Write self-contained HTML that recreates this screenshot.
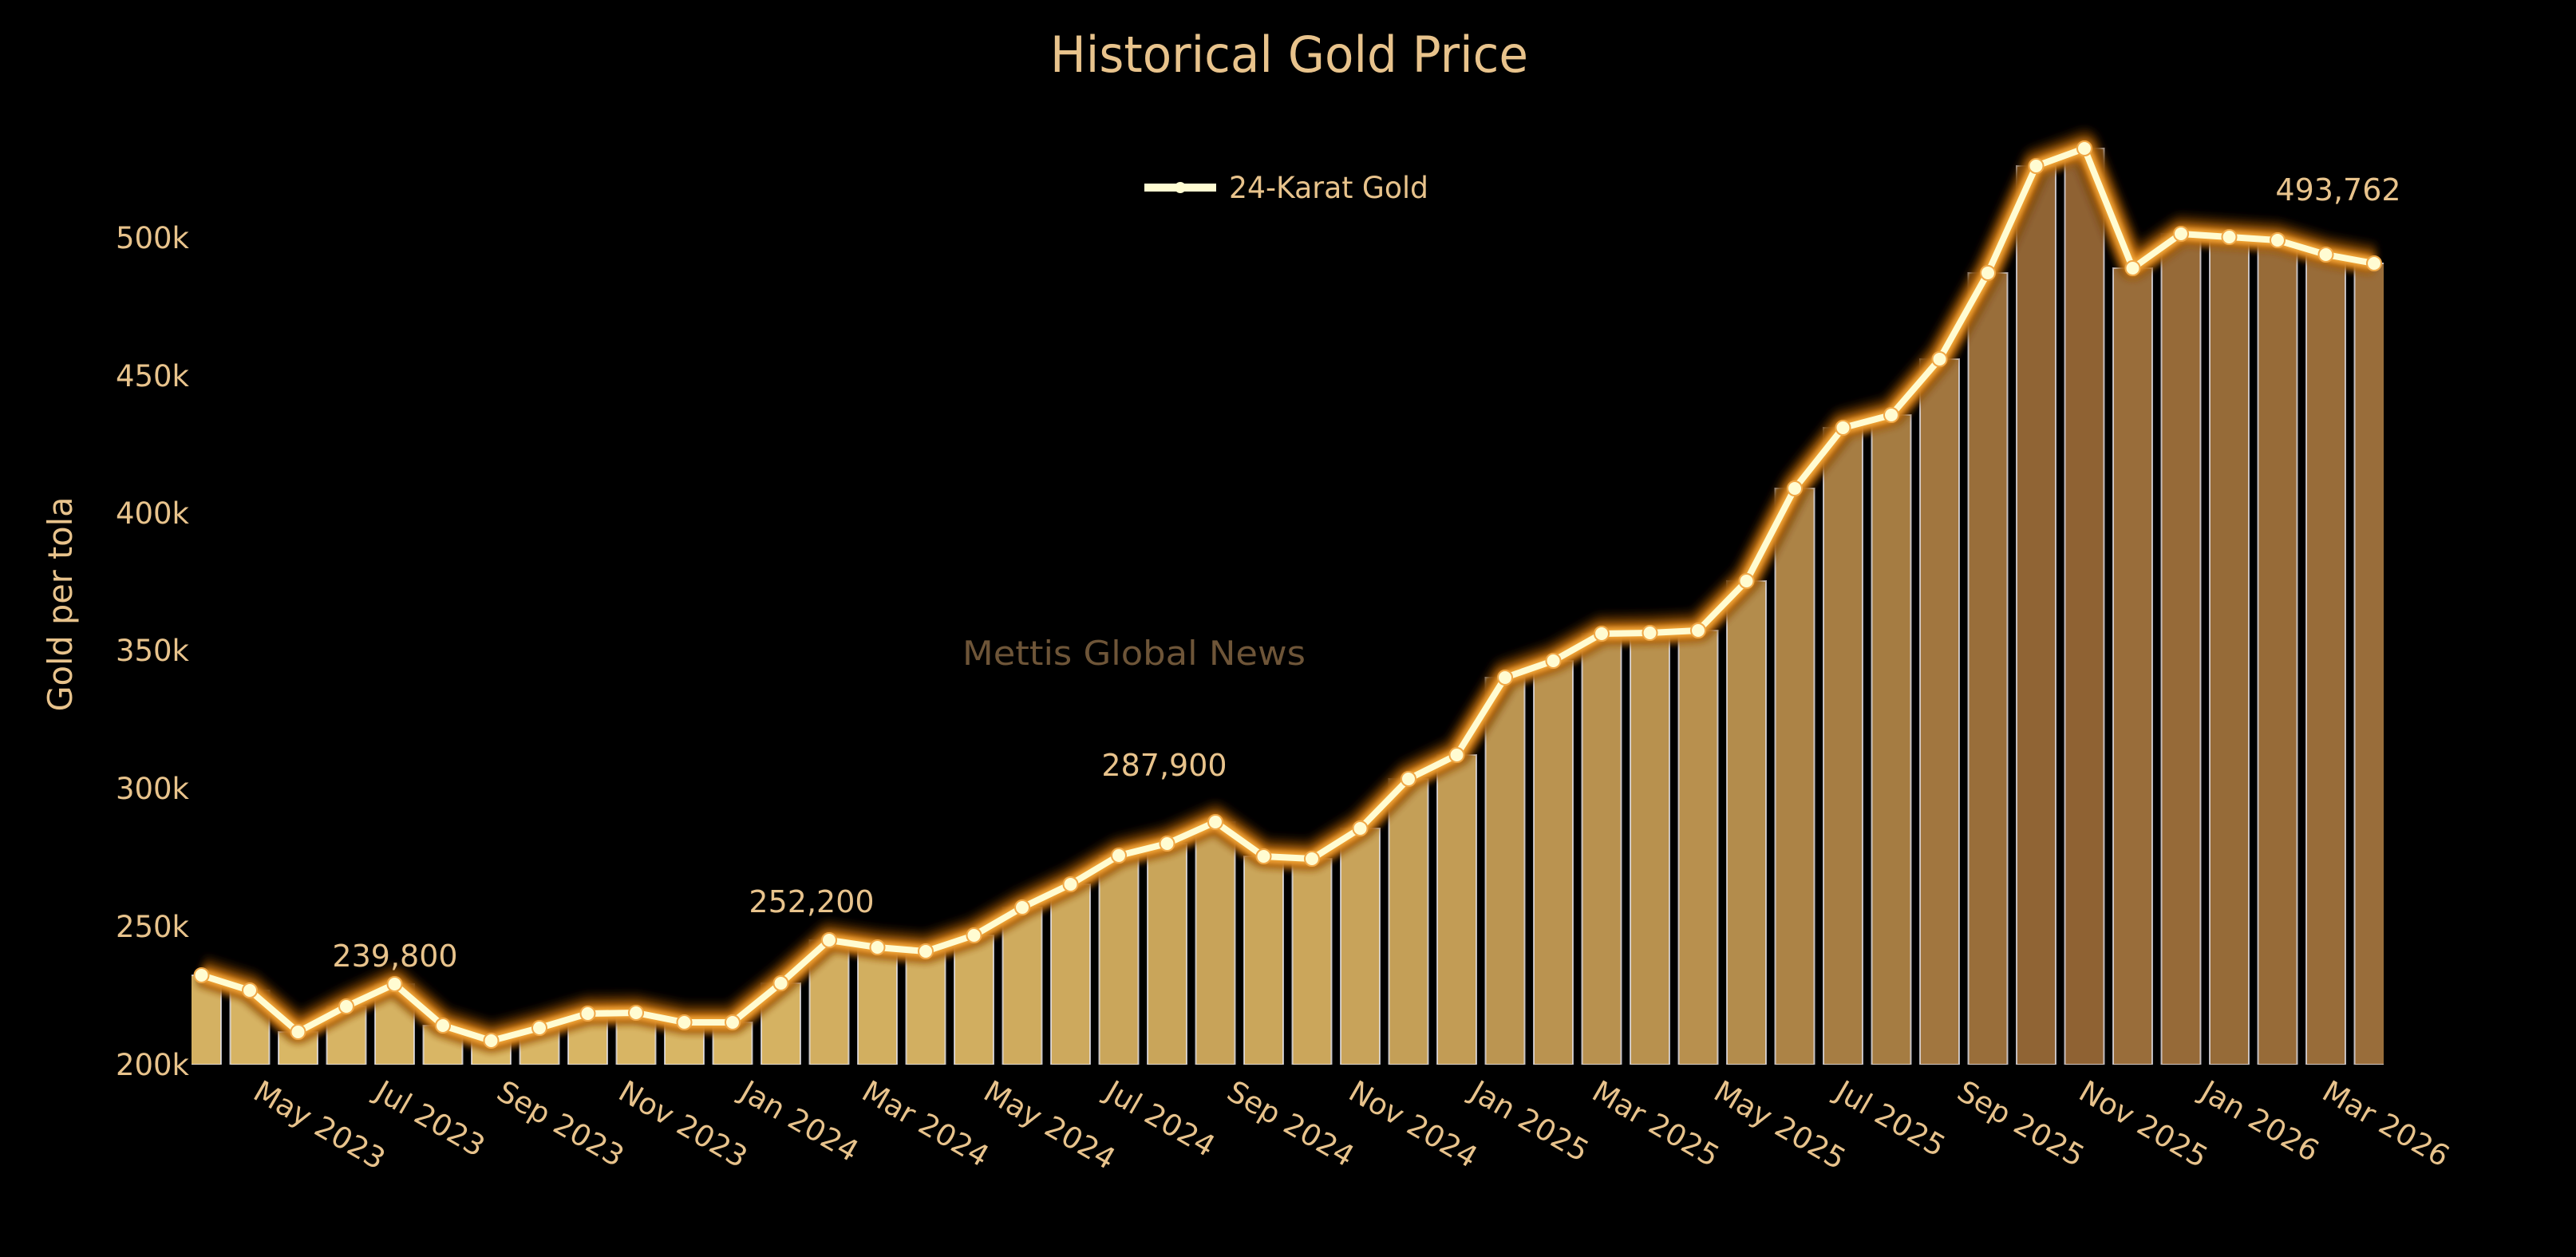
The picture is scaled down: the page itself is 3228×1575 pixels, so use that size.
<!DOCTYPE html>
<html><head><meta charset="utf-8"><style>html,body{margin:0;padding:0;background:#000}svg{display:block}</style></head>
<body>
<svg width="3228" height="1575" viewBox="0 0 3228 1575" xmlns="http://www.w3.org/2000/svg" font-family="DejaVu Sans, Liberation Sans, sans-serif">
<defs>
<filter id="b1" x="-10%" y="-10%" width="120%" height="120%"><feGaussianBlur stdDeviation="5"/></filter>
<filter id="b2" x="-10%" y="-10%" width="120%" height="120%"><feGaussianBlur stdDeviation="3"/></filter>
<clipPath id="pc"><rect x="240" y="100" width="2747" height="1234"/></clipPath>
</defs>
<rect width="3228" height="1575" fill="#000"/>
<text x="1316" y="90" font-size="62" fill="#e8c38c" textLength="599" lengthAdjust="spacingAndGlyphs">Historical Gold Price</text>
<line x1="1434" y1="235" x2="1524" y2="235" stroke="#fffcd2" stroke-width="10"/>
<circle cx="1479" cy="235" r="7" fill="#fffcd2"/>
<text x="1540" y="248" font-size="37" fill="#e8c38c" textLength="250" lengthAdjust="spacingAndGlyphs">24-Karat Gold</text>
<g font-size="37" fill="#e8c38c" text-anchor="end">
<text x="237" y="311">500k</text><text x="237" y="484">450k</text><text x="237" y="656">400k</text><text x="237" y="828">350k</text><text x="237" y="1001">300k</text><text x="237" y="1174">250k</text><text x="237" y="1347">200k</text>
</g>
<text transform="translate(90,757) rotate(-90)" text-anchor="middle" font-size="42" fill="#e8c38c" textLength="269" lengthAdjust="spacingAndGlyphs">Gold per tola</text>
<text x="1421" y="833" text-anchor="middle" font-size="42" fill="#6e5538" textLength="430" lengthAdjust="spacingAndGlyphs">Mettis Global News</text>
<g id="bars" clip-path="url(#pc)"></g>
<g id="line"></g>
<g font-size="38" fill="#e8c38c" text-anchor="middle">
<text x="495" y="1211">239,800</text>
<text x="1017" y="1143">252,200</text>
<text x="1459" y="972">287,900</text>
<text x="2930" y="251">493,762</text>
</g>
<g id="xl" font-size="37" fill="#e8c38c"></g>
<script>
var ys=[1222,1241,1293,1261,1233,1285,1304,1288,1270,1269,1281,1281,1232,1178,1187,1192,1172,1137,1108,1072,1057,1030,1073,1076,1038,976,946,849,828,794,793,790,728,612,536,520,450,342,208,186,336,293,297,301,319,330];
var ns="http://www.w3.org/2000/svg";
function el(t,a,p){var e=document.createElementNS(ns,t);for(var k in a)e.setAttribute(k,a[k]);p.appendChild(e);return e;}
var bars=document.getElementById('bars'),line=document.getElementById('line'),xl=document.getElementById('xl');
var c0=[220,186,103],c1=[143,98,51];
var pts=[];
ys.forEach(function(y,i){
 var x=252.5+i*60.5;pts.push(x+','+y);
 var t=(1334-y)/(1334-186);
 var c=c0.map(function(v,j){return Math.round(v+(c1[j]-v)*t);});
 el('rect',{x:x-24.5,y:y,width:49,height:1334-y,fill:'rgb('+c.join(',')+')',stroke:'rgba(235,235,245,0.75)','stroke-width':2},bars);
});
var P=pts.join(' ');
el('polyline',{points:P,fill:'none',stroke:'#4a2600','stroke-width':36,'stroke-linejoin':'round',transform:'translate(0,-6)',filter:'url(#b1)',opacity:0.95},line);
el('polyline',{points:P,fill:'none',stroke:'#d97f14','stroke-width':26,'stroke-linejoin':'round',filter:'url(#b1)',opacity:0.9},line);
el('polyline',{points:P,fill:'none',stroke:'#f3a83a','stroke-width':14,'stroke-linejoin':'round',filter:'url(#b2)'},line);
el('polyline',{points:P,fill:'none',stroke:'#fffcd2','stroke-width':8,'stroke-linejoin':'round'},line);
ys.forEach(function(y,i){var x=252.5+i*60.5;el('circle',{cx:x,cy:y,r:9,fill:'#fffcd2',stroke:'#f0a848','stroke-width':2},line);});
var labs=['May 2023','Jul 2023','Sep 2023','Nov 2023','Jan 2024','Mar 2024','May 2024','Jul 2024','Sep 2024','Nov 2024','Jan 2025','Mar 2025','May 2025','Jul 2025','Sep 2025','Nov 2025','Jan 2026','Mar 2026'];
labs.forEach(function(s,i){var x=315+i*152.5;var t=el('text',{transform:'translate('+x+',1375) rotate(30)'},xl);t.textContent=s;});
</script>
</svg>
</body></html>
